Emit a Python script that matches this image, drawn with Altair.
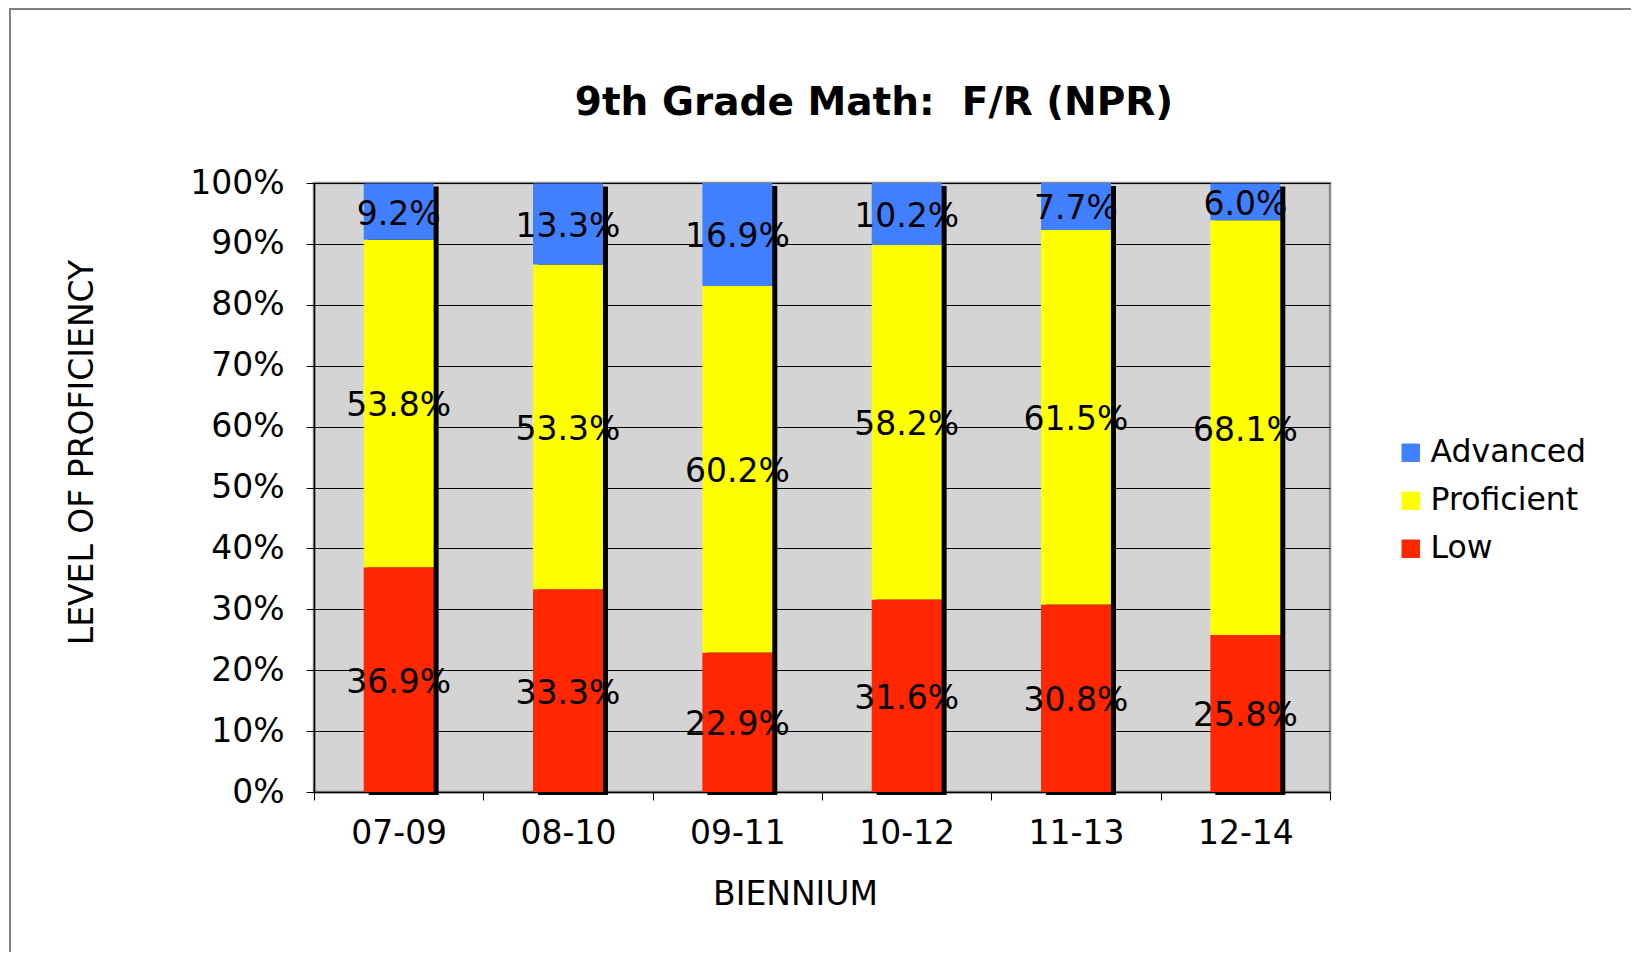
import altair as alt
import pandas as pd

biennium = ["07-09", "08-10", "09-11", "10-12", "11-13", "12-14"]
low = [36.9, 33.3, 22.9, 31.6, 30.8, 25.8]
proficient = [53.8, 53.3, 60.2, 58.2, 61.5, 68.1]
advanced = [9.2, 13.3, 16.9, 10.2, 7.7, 6.0]
levels = ["Advanced", "Proficient", "Low"]
colors = ["#4080FF", "#FFFF00", "#FF2600"]
y_ticks = [0, 10, 20, 30, 40, 50, 60, 70, 80, 90, 100]
title_text = ["9th Grade Math:\u00a0\u00a0F/R (NPR)"]

rows = []
for i, b in enumerate(biennium):
    for lvl, vals, order in [("Low", low, 0), ("Proficient", proficient, 1), ("Advanced", advanced, 2)]:
        rows.append({"biennium": b, "level": lvl, "value": vals[i], "order": order})
df = pd.DataFrame(rows)

FONT = "DejaVu Sans"
W, H = 1016, 609

x_enc = alt.X(
    "biennium:N", sort=biennium,
    scale=alt.Scale(paddingInner=0, paddingOuter=0),
    axis=alt.Axis(
        title="BIENNIUM", labelAngle=0, tickBand="extent", tickSize=8,
        tickColor="black", domainColor="black", domainWidth=1.5,
        labelFontSize=33, labelPadding=17, labelColor="black", labelFont=FONT,
        titleFontSize=33, titleFontWeight="normal", titleColor="black", titleFont=FONT,
        titleX=481, titleY=102, titleBaseline="middle", titleAlign="center",
        grid=False,
    ),
)

y_axis = alt.Axis(
    title="LEVEL OF PROFICIENCY", values=y_ticks, labelExpr="datum.value + '%'",
    tickSize=8, tickColor="black", domainColor="black", domainWidth=1.5,
    gridColor="black", gridWidth=1, grid=True,
    labelFontSize=33, labelPadding=22, labelColor="black", labelFont=FONT,
    titleFontSize=33, titleFontWeight="normal", titleColor="black", titleFont=FONT,
    titleAngle=270, titleX=-232, titleY=269, titleBaseline="middle", titleAlign="center",
)
y_scale = alt.Scale(domain=[0, 100], nice=False)

base = alt.Chart(df)

shadow = base.transform_aggregate(
    total="sum(value)", groupby=["biennium"]
).mark_bar(width=alt.RelativeBandSize(0.413), xOffset=5, yOffset=3, color="black").encode(
    x=x_enc,
    y=alt.Y("total:Q", scale=y_scale, axis=y_axis),
)

stacked = base.transform_stack(
    stack="value", groupby=["biennium"], as_=["y0", "y1"],
    sort=[alt.SortField("order", order="ascending")],
).transform_calculate(
    mid="(datum.y0 + datum.y1) / 2",
    label="format(datum.value, '.1f') + '%'",
)

bars = stacked.mark_bar(width=alt.RelativeBandSize(0.413)).encode(
    x=x_enc,
    y=alt.Y("y0:Q", scale=y_scale, axis=y_axis),
    y2="y1:Q",
    color=alt.Color(
        "level:N",
        scale=alt.Scale(domain=levels, range=colors),
        legend=alt.Legend(
            title=None, orient="none", legendX=1081, legendY=254,
            labelFontSize=31.5, labelFont=FONT, labelColor="black",
            symbolType="square", symbolSize=340, symbolStrokeWidth=0,
            rowPadding=15, labelOffset=4,
        ),
    ),
)

labels = stacked.mark_text(fontSize=33, font=FONT, color="black", dy=3).encode(
    x=x_enc,
    y=alt.Y("mid:Q", scale=y_scale, axis=y_axis),
    text="label:N",
)

frame = alt.Chart(pd.DataFrame({"k": [0]})).mark_rect(
    fillOpacity=0, stroke="#808080", strokeWidth=2
).encode(
    x=alt.value(-304), x2=alt.value(1400), y=alt.value(-174), y2=alt.value(1000)
)

title = alt.Chart(pd.DataFrame({"t": title_text})).mark_text(
    fontSize=39, font=FONT, fontWeight="bold", color="black",
    align="center", baseline="middle",
).encode(
    x=alt.value(560), y=alt.value(-80), text="t:N"
)

chart = alt.layer(frame, shadow, bars, labels, title).properties(
    width=W, height=H,
    autosize=alt.AutoSizeParams(type="none"),
    padding={"left": 306, "top": 175, "right": 301, "bottom": 160},
).configure(font=FONT).configure_view(
    fill="#D4D4D4", stroke="#8C8C8C", strokeWidth=2.5
)

chart.save("out.html", embed_options={"renderer": "svg", "actions": False})
